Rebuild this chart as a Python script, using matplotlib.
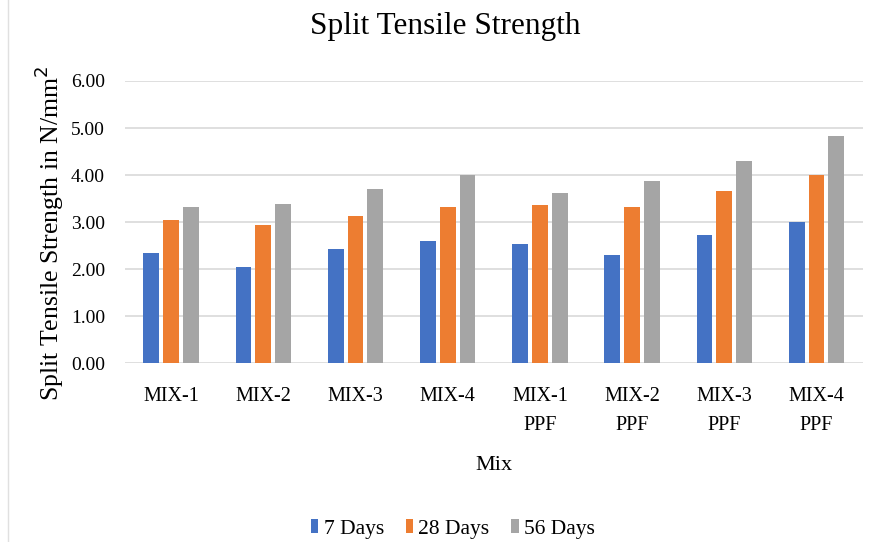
import matplotlib
matplotlib.use("Agg")
import matplotlib.pyplot as plt
import numpy as np

plt.rcParams['font.family'] = ['Liberation Serif', 'DejaVu Serif']

# data
mixes = ["MIX-1", "MIX-2", "MIX-3", "MIX-4",
         "MIX-1\nPPF", "MIX-2\nPPF", "MIX-3\nPPF", "MIX-4\nPPF"]
days_7 = [2.35, 2.04, 2.43, 2.59, 2.54, 2.29, 2.73, 3.00]
days_28 = [3.05, 2.93, 3.12, 3.33, 3.36, 3.31, 3.66, 4.00]
days_56 = [3.33, 3.39, 3.70, 4.00, 3.61, 3.88, 4.30, 4.82]
series_names = ["7 Days", "28 Days", "56 Days"]
colors = ["#4472C4", "#ED7D31", "#A5A5A5"]

fig = plt.figure(figsize=(8.76, 5.42), dpi=100)
ax = fig.add_axes([0.1427, 0.330, 0.842, 0.5206])

x = np.arange(len(mixes))
bw = 0.17
step = 0.215
for i, (vals, name, c) in enumerate(zip([days_7, days_28, days_56], series_names, colors)):
    ax.bar(x + (i - 1) * step, vals, width=bw, color=c, label=name, zorder=3)

ax.set_xlim(-0.5, len(mixes) - 0.5)
ax.set_ylim(0, 6)
ax.set_yticks(np.arange(0, 7, 1))
ax.set_yticklabels([f"{v:.2f}" for v in np.arange(0, 7, 1)], fontsize=14)
ax.set_xticks(x)
ax.set_xticklabels(mixes, fontsize=14.5, linespacing=1.74)
ax.tick_params(axis="y", length=0, pad=14.5)
ax.tick_params(axis="x", length=0, pad=17)
ax.yaxis.grid(True, color="#D9D9D9", linewidth=1.2, zorder=0)
for s in ax.spines.values():
    s.set_visible(False)

fig.text(0.508, 0.951, "Split Tensile Strength", fontsize=22.5, ha="center", va="center")
fig.text(0.056, 0.57, "Split Tensile Strength in N/mm$^2$", fontsize=18.5,
         rotation=90, ha="center", va="center")
ax.set_xlabel("Mix", fontsize=16, labelpad=15)

fig.legend(*ax.get_legend_handles_labels(), loc="center", bbox_to_anchor=(0.517, 0.024),
           ncol=3, frameon=False, fontsize=15.5, handlelength=0.35, handleheight=0.6,
           handletextpad=0.25, columnspacing=1.0)

# faint frame edge at the left, as in the source image
fig.add_artist(plt.Line2D([0.009, 0.009], [0.0, 1.0], color="#E0E0E0", linewidth=1))

fig.savefig("out.png", dpi=100)
